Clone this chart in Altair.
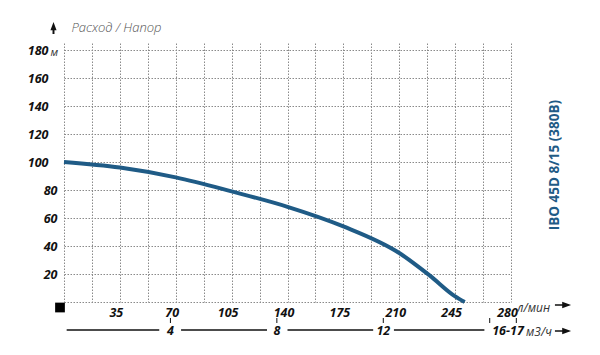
import altair as alt
import pandas as pd

# Pump curve: flow (l/min) vs head (m)
flow = [0, 35, 70, 105, 140, 175, 210, 229, 245, 251]
head = [100, 96, 89, 79, 68, 54, 35, 19, 4, 0]

x_ticks = [0, 17.5, 35, 52.5, 70, 87.5, 105, 122.5, 140, 157.5, 175, 192.5, 210, 227.5, 245, 262.5, 280]
y_ticks = [0, 20, 40, 60, 80, 100, 120, 140, 160, 180]

# secondary axis (m3/h)
m3h_ticks = [4, 8, 12, 16, 17]
m3h_label_pos = [4, 8, 12]
m3h_labels = ["4", "8", "12"]
m3h_range_pos = [16.5]
m3h_range_label = ["16-17"]

model_name = "IBO 45D 8/15 (380B)"
y_title = "Расход / Напор"
x_unit = "л/мин"
y_unit = "м"
m3h_unit = "м3/ч"

BLUE = "#1f5b86"
FONT = "Open Sans"
BLANK = "\u2800"

W, H = 447, 259
XDOM = [0, 280]
YDOM = [0, 185]

xs = alt.Scale(domain=XDOM, nice=False, zero=False)
ys = alt.Scale(domain=YDOM, nice=False)

curve_df = pd.DataFrame({"flow": flow, "head": head})

x_axis = alt.Axis(
    values=x_ticks, grid=True, gridColor="#8a8a8a", gridDash=[1.5, 1.5], gridWidth=1,
    domain=False, ticks=False, title=None,
    labelExpr="(datum.value % 35 == 0 && datum.value > 0) ? datum.label : ''",
    labelFont=FONT, labelFontStyle="italic", labelFontWeight="bold", labelFontSize=12.5,
    labelColor="#111", labelPadding=4, labelOffset=-4, labelFlush=False, labelOverlap=False,
    labelBound=False,
)
y_axis = alt.Axis(
    values=y_ticks, grid=True, gridColor="#8a8a8a", gridDash=[1.5, 1.5], gridWidth=1,
    domain=False, ticks=False, title=None,
    labelExpr="datum.value == 0 ? '' : (datum.value >= 100 ? datum.label + '" + BLANK + "' : datum.label)",
    labelFont=FONT, labelFontStyle="italic", labelFontWeight="bold", labelFontSize=12.5,
    labelColor="#111", labelPadding=7, labelAlign="right", labelBaseline="middle",
    labelOverlap=False, labelBound=False,
)

curve = alt.Chart(curve_df).mark_line(
    color=BLUE, strokeWidth=4, interpolate="monotone"
).encode(
    x=alt.X("flow:Q", scale=xs, axis=x_axis),
    y=alt.Y("head:Q", scale=ys, axis=y_axis),
)

one = pd.DataFrame({"a": [0]})
base = alt.Chart(one)

# secondary axis (m3/h), placed on the l/min scale
tick_df = pd.DataFrame({"m3h": m3h_ticks})
tick_df["flow"] = tick_df["m3h"] * 1000 / 60
lab_df = pd.DataFrame({"m3h": m3h_label_pos, "label": m3h_labels})
lab_df["flow"] = lab_df["m3h"] * 1000 / 60
rng_df = pd.DataFrame({"m3h": m3h_range_pos, "label": m3h_range_label})
rng_df["flow"] = rng_df["m3h"] * 1000 / 60

sec_labels = alt.Chart(lab_df).mark_text(
    font=FONT, fontStyle="italic", fontWeight="bold", fontSize=12.5, color="#111",
    baseline="middle", align="center"
).encode(
    x=alt.X("flow:Q", scale=xs, axis=x_axis),
    y=alt.value(288),
    text="label:N",
)
sec_range = alt.Chart(rng_df).mark_text(
    font=FONT, fontStyle="italic", fontWeight="bold", fontSize=12.5, color="#111",
    baseline="middle", align="center", dx=5
).encode(
    x=alt.X("flow:Q", scale=xs, axis=x_axis),
    y=alt.value(288),
    text="label:N",
)
sec_ticks = alt.Chart(tick_df).mark_rule(color="#111", strokeWidth=1).encode(
    x=alt.X("flow:Q", scale=xs, axis=x_axis),
    y=alt.value(275), y2=alt.value(280),
)

# line segments between the m3/h labels
seg_starts = [0.1, 4.4, 8.4, 12.4]
seg_ends = [3.58, 7.63, 11.62, 15.8]
seg_df = pd.DataFrame({
    "flow": [v * 1000 / 60 for v in seg_starts],
    "e": [v * 1000 / 60 for v in seg_ends],
})
sec_line = alt.Chart(seg_df).mark_rule(color="#111", strokeWidth=1.6).encode(
    x=alt.X("flow:Q", scale=xs, axis=x_axis), x2="e:Q", y=alt.value(287),
)

m3h_unit_txt = base.mark_text(
    font=FONT, fontStyle="italic", fontSize=12, color="#333", align="left", baseline="middle"
).encode(x=alt.value(462), y=alt.value(289), text=alt.value(m3h_unit))

x_unit_txt = base.mark_text(
    font=FONT, fontStyle="italic", fontSize=12, color="#333", align="left", baseline="middle"
).encode(x=alt.value(453), y=alt.value(265), text=alt.value(x_unit))

y_unit_txt = base.mark_text(
    font=FONT, fontStyle="italic", fontSize=11, color="#333", align="left", baseline="middle"
).encode(x=alt.value(-13.5), y=alt.value(10), text=alt.value(y_unit))

title_txt = base.mark_text(
    font=FONT, fontStyle="italic", fontWeight=300, fontSize=13, color="#555",
    align="left", baseline="middle"
).encode(x=alt.value(7.5), y=alt.value(-15), text=alt.value(y_title))

model_txt = base.mark_text(
    font=FONT, fontWeight="bold", fontSize=13.5, color=BLUE, angle=270,
    align="center", baseline="middle"
).encode(x=alt.value(491), y=alt.value(122), text=alt.value(model_name))

up_arrow = "M0,-1 L0.5,0.35 L0.16,0.35 L0.16,1 L-0.16,1 L-0.16,0.35 L-0.5,0.35 Z"
right_arrow = "M1,0 L-0.1,-0.4 L-0.1,-0.1 L-1,-0.1 L-1,0.1 L-0.1,0.1 L-0.1,0.4 Z"

arrow_up = base.mark_point(shape=up_arrow, filled=True, color="#111", opacity=1, size=150).encode(
    x=alt.value(-10.5), y=alt.value(-15)
)
arrow_r1 = base.mark_point(shape=right_arrow, filled=True, color="#111", opacity=1, size=260).encode(
    x=alt.value(499), y=alt.value(262)
)
arrow_r2 = base.mark_point(shape=right_arrow, filled=True, color="#111", opacity=1, size=260).encode(
    x=alt.value(499), y=alt.value(288)
)
origin_sq = base.mark_point(shape="square", filled=True, color="#000", opacity=1, size=95).encode(
    x=alt.value(-4), y=alt.value(264.5)
)

chart = alt.layer(
    curve, sec_line, sec_ticks, sec_labels, sec_range, m3h_unit_txt, x_unit_txt, y_unit_txt,
    title_txt, model_txt, arrow_up, arrow_r1, arrow_r2, origin_sq,
).properties(
    width=W, height=H,
    padding={"left": 56, "top": 35, "right": 80, "bottom": 45},
    autosize=alt.AutoSizeParams(type="none"),
    background="white",
).configure_view(stroke=None)

chart.save("out.html", embed_options={"renderer": "svg", "actions": False})
